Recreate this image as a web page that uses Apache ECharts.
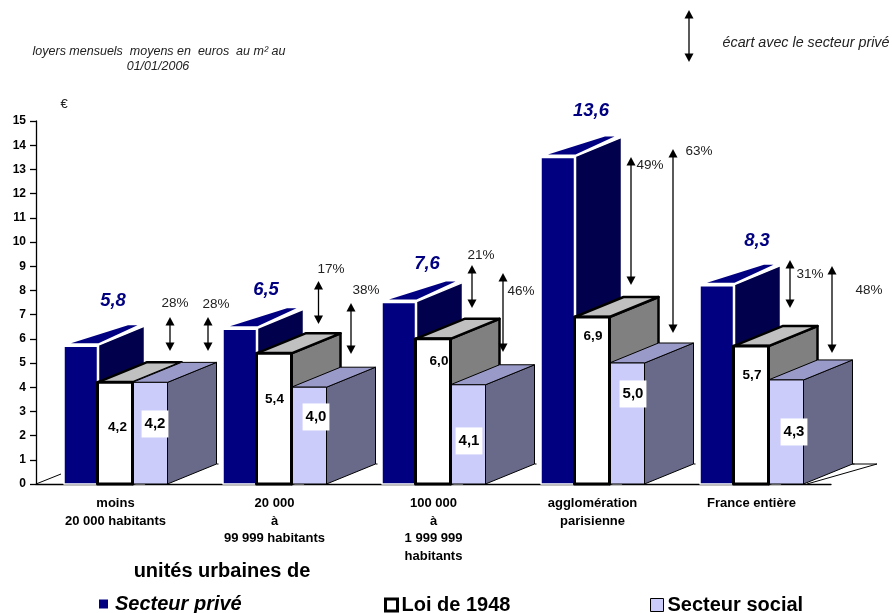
<!DOCTYPE html>
<html>
<head>
<meta charset="utf-8">
<style>
  html, body { margin: 0; padding: 0; background: #fff; }
  #main { width: 892px; height: 613px; }
</style>
<script src="https://cdn.jsdelivr.net/npm/echarts@6/dist/echarts.min.js"></script>
</head>
<body>
<div id="main"></div>
<script>
const categories = ['moins\n20 000 habitants', '20 000\nà\n99 999 habitants', '100 000\nà\n1 999 999\nhabitants', 'agglomération\nparisienne', 'France entière'];
const prive = [5.8, 6.5, 7.6, 13.6, 8.3];
const loi1948 = [4.2, 5.4, 6.0, 6.9, 5.7];
const social = [4.2, 4.0, 4.1, 5.0, 4.3];

// ecarts : categorie, haut et bas de la fleche (en euros), texte
const ecartCategorie = [0, 0, 1, 1, 2, 2, 3, 3, 4, 4];
const ecartHaut = [6.9, 6.9, 8.39, 7.48, 9.05, 8.72, 13.51, 13.84, 9.26, 9.01];
const ecartBas = [5.5, 5.5, 6.61, 5.37, 7.27, 5.45, 8.22, 6.24, 7.27, 5.41];
const ecartTexte = ['28%', '28%', '17%', '38%', '21%', '46%', '49%', '63%', '31%', '48%'];

// placement des etiquettes, a part des valeurs
const ecartDx = [54.5, 92.5, 44, 76.5, 38.5, 69.5, 38.5, 80.5, 38.5, 80.5];
const ecartTexteDx = [59.5, 100.5, 56.5, 91.5, 47.5, 87.5, 57.5, 106.5, 58.5, 117.5];
const ecartTexteY = [7.48, 7.44, 8.88, 8.02, 9.46, 7.98, 13.18, 13.76, 8.68, 8.02];
const priveLabelDx = [-2.5, -8.5, -6.5, -1.5, 5.5];
const priveLabelY = [7.56, 8.02, 9.09, 15.41, 10.04];
const loiLabelDx = [2, 0, 5.5, 0.5, 0.5];
const loiLabelY = [2.36, 3.51, 5.08, 6.12, 4.5];
const socialLabelDx = [39.5, 41.5, 35.5, 40.5, 42.5];
const socialLabelY = [2.48, 2.77, 1.78, 3.72, 2.15];

const DX = 49, DY = 20;
const FONT = '"Liberation Sans", Arial, sans-serif';
const virgule = v => v.toFixed(1).replace('.', ',');

function poly(points, fill, stroke, lineWidth) {
  return { type: 'polygon', shape: { points }, style: { fill, stroke: stroke || 'none', lineWidth: lineWidth || 0, lineJoin: 'round' } };
}

function texte(x, y, text, font, fill, extra) {
  return { type: 'text', style: Object.assign({ x, y, text, font, fill, align: 'center', verticalAlign: 'middle' }, extra) };
}

function fleche(x, y0, y1) {
  return [
    { type: 'line', shape: { x1: x, y1: y0 + 6, x2: x, y2: y1 - 6 }, style: { stroke: '#000', lineWidth: 1.3 } },
    poly([[x, y0], [x - 4.5, y0 + 8.5], [x + 4.5, y0 + 8.5]], '#000'),
    poly([[x, y1], [x - 4.5, y1 - 8.5], [x + 4.5, y1 - 8.5]], '#000')
  ];
}

// dessus et cote de chaque barre, la face avant de Loi 1948 passe en dernier
function renderPrive(params, api) {
  const i = api.value(0);
  const c = api.coord([i, 0]);
  const top = api.coord([i, api.value(1)])[1] + 2.5;
  const x0 = c[0] - 51.5, x1 = c[0] - 18;
  return {
    type: 'group',
    children: [
      poly([[x1 + 1, top - 1], [x1 + 47, top - 20], [x1 + 47, c[1]], [x1 + 1, c[1]]], '#00004d', '#fff', 1.5),
      poly([[x0 + 7, top - 3], [x1 + 1, top - 3], [x1 + 40, top - 21], [x0 + 64, top - 21]], '#000080'),
      poly([[x0, top], [x1, top], [x1, c[1]], [x0, c[1]]], '#000080', '#fff', 1.5),
      texte(c[0] + priveLabelDx[i], api.coord([i, priveLabelY[i]])[1], virgule(api.value(1)), 'italic bold 18.5px ' + FONT, '#000080')
    ]
  };
}

function renderLoiFond(params, api) {
  const i = api.value(0);
  const c = api.coord([i, 0]);
  const top = api.coord([i, api.value(1)])[1];
  const x0 = c[0] - 18, x1 = c[0] + 17;
  return {
    type: 'group',
    children: [
      poly([[x1, top], [x1 + DX, top - DY], [x1 + DX, c[1] - DY], [x1, c[1]]], '#808080', '#000', 2.5),
      poly([[x0, top], [x1, top], [x1 + DX, top - DY], [x0 + DX, top - DY]], '#c0c0c0', '#000', 2.5)
    ]
  };
}

function renderSocial(params, api) {
  const i = api.value(0);
  const c = api.coord([i, 0]);
  const top = api.coord([i, api.value(1)])[1];
  const x0 = c[0] + 17, x1 = c[0] + 52;
  return {
    type: 'group',
    children: [
      poly([[x1, top], [x1 + DX, top - DY], [x1 + DX, c[1] - DY], [x1, c[1]]], '#69698a', '#000', 1),
      poly([[x0, top], [x1, top], [x1 + DX, top - DY], [x0 + DX, top - DY]], '#9a9ac8', '#000', 1),
      poly([[x0, top], [x1, top], [x1, c[1]], [x0, c[1]]], '#ccccfa', '#000', 1),
      { type: 'line', shape: { x1: x1 + DX, y1: c[1] - DY, x2: x1 + DX + 2, y2: c[1] - DY }, style: { stroke: '#000', lineWidth: 1 } }
    ]
  };
}

function renderLoiFace(params, api) {
  const i = api.value(0);
  const c = api.coord([i, 0]);
  const top = api.coord([i, api.value(1)])[1];
  const x0 = c[0] - 18, x1 = c[0] + 17;
  return {
    type: 'group',
    children: [
      poly([[x0, top], [x1, top], [x1, c[1]], [x0, c[1]]], '#fff', '#000', 3),
      texte(c[0] + loiLabelDx[i], api.coord([i, loiLabelY[i]])[1], virgule(api.value(1)), 'bold 13.5px ' + FONT, '#000')
    ]
  };
}

function renderSocialLabel(params, api) {
  const i = api.value(0);
  const c = api.coord([i, 0]);
  return texte(c[0] + socialLabelDx[i], api.coord([i, socialLabelY[i]])[1], virgule(api.value(1)), 'bold 15px ' + FONT, '#000',
    { backgroundColor: '#fff', padding: [6, 3, 6, 3] });
}

function renderEcart(params, api) {
  const k = params.dataIndex;
  const c = api.coord([api.value(0), 0]);
  const yHaut = api.coord([api.value(0), api.value(1)])[1];
  const yBas = api.coord([api.value(0), api.value(2)])[1];
  return {
    type: 'group',
    children: fleche(c[0] + ecartDx[k], yHaut, yBas).concat(
      texte(c[0] + ecartTexteDx[k], api.coord([api.value(0), ecartTexteY[k]])[1], ecartTexte[k], '13.5px ' + FONT, '#222'))
  };
}

// plancher de la perspective
function renderPlancher(params) {
  const g = params.coordSys;
  const base = g.y + g.height, right = g.x + g.width;
  const line = (x1, y1, x2, y2) => ({ type: 'line', shape: { x1, y1, x2, y2 }, style: { stroke: '#000', lineWidth: 1 } });
  return {
    type: 'group',
    children: [
      line(g.x, base, g.x + 25, base - 10),
      line(right - 24, base, right + 46, base - DY),
      line(right + 21, base - DY, right + 46, base - DY)
    ]
  };
}

const serie = (name, values, renderItem) => ({
  name, type: 'custom', renderItem, coordinateSystem: 'cartesian2d', silent: true,
  data: values.map((v, i) => [i, v]), encode: { x: 0, y: 1 }, clip: false
});

const legende = (name, left, top, itemSize, itemStyle, italic, gap) => ({
  left, top, itemWidth: itemSize, itemHeight: itemSize, selectedMode: false, padding: 0, itemGap: 0,
  data: [{ name, icon: 'rect', itemStyle }],
  textStyle: { fontFamily: FONT, fontSize: 20, fontWeight: 'bold', fontStyle: italic ? 'italic' : 'normal', color: '#000', padding: [0, 0, 0, gap] }
});

const chart = echarts.init(document.getElementById('main'), null, { renderer: 'canvas' });

chart.setOption({
  animation: false,
  backgroundColor: '#fff',
  grid: { left: 36, right: 61, top: 121, bottom: 129, containLabel: false },
  legend: [
    legende('Secteur privé', 99, 594, 9, { color: '#000080', borderWidth: 0 }, true, 2),
    legende('Loi de 1948', 384, 595, 12, { color: '#fff', borderColor: '#000', borderWidth: 3 }, false, -1),
    legende('Secteur social', 650, 595, 13, { color: '#ccccfa', borderColor: '#000', borderWidth: 1 }, false, -1)
  ],
  xAxis: {
    type: 'category',
    data: categories,
    axisLine: { lineStyle: { color: '#000', width: 1.3 } },
    axisTick: { length: 6, lineStyle: { color: '#000', width: 1.3 } },
    axisLabel: { interval: 0, margin: 11, fontFamily: FONT, fontSize: 13, fontWeight: 'bold', color: '#000', lineHeight: 17.5, align: 'center' }
  },
  yAxis: {
    type: 'value',
    min: 0,
    max: 15,
    interval: 1,
    splitLine: { show: false },
    axisLine: { show: true, lineStyle: { color: '#000', width: 1.3 } },
    axisTick: { show: true, length: 6, lineStyle: { color: '#000', width: 1.3 } },
    axisLabel: { margin: 10, fontFamily: FONT, fontSize: 12, fontWeight: 'bold', color: '#000' }
  },
  series: [
    serie('plancher', [0], renderPlancher),
    serie('Secteur privé', prive, renderPrive),
    serie('Loi de 1948', loi1948, renderLoiFond),
    serie('Secteur social', social, renderSocial),
    serie('Loi de 1948 face', loi1948, renderLoiFace),
    serie('Secteur social label', social, renderSocialLabel),
    {
      name: 'ecarts', type: 'custom', coordinateSystem: 'cartesian2d', silent: true, clip: false,
      renderItem: renderEcart,
      data: ecartCategorie.map((c, i) => [c, ecartHaut[i], ecartBas[i]]),
      encode: { x: 0, y: [1, 2] }
    }
  ],
  graphic: [
    { type: 'text', style: { x: 159, y: 52, text: 'loyers mensuels  moyens en  euros  au m² au', font: 'italic 12.5px ' + FONT, fill: '#222', align: 'center', verticalAlign: 'middle' } },
    { type: 'text', style: { x: 158, y: 67, text: '01/01/2006', font: 'italic 12.5px ' + FONT, fill: '#222', align: 'center', verticalAlign: 'middle' } },
    { type: 'text', style: { x: 64, y: 104, text: '€', font: '13px ' + FONT, fill: '#222', align: 'center', verticalAlign: 'middle' } },
    { type: 'text', style: { x: 806, y: 43, text: 'écart avec le secteur privé', font: 'italic 14.3px ' + FONT, fill: '#222', align: 'center', verticalAlign: 'middle' } },
    { type: 'text', style: { x: 222, y: 571, text: 'unités urbaines de', font: 'bold 20px ' + FONT, fill: '#000', align: 'center', verticalAlign: 'middle' } },
    { type: 'group', children: fleche(689, 10, 62) }
  ]
});
</script>
</body>
</html>
